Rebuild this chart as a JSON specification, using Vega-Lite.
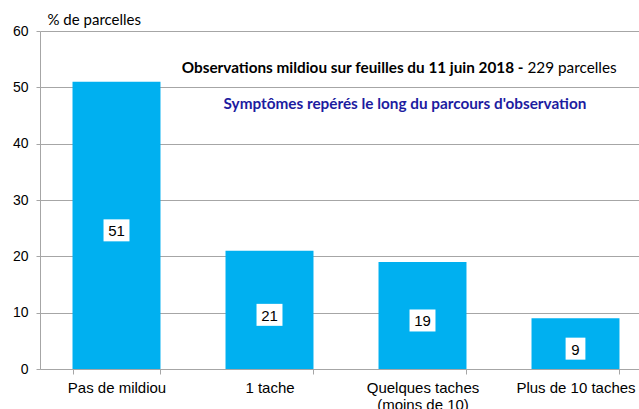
{
  "$schema": "https://vega.github.io/schema/vega-lite/v6.json",
  "width": 612,
  "height": 338,
  "autosize": {"type": "none"},
  "padding": {"left": 40, "top": 31, "right": 0, "bottom": 40},
  "background": "white",
  "config": {"view": {"stroke": null}, "font": "Liberation Sans"},
  "data": {"values": [
    {"categorie": "Pas de mildiou", "pct": 51},
    {"categorie": "1 tache", "pct": 21},
    {"categorie": "Quelques taches (moins de 10)", "pct": 19},
    {"categorie": "Plus de 10 taches", "pct": 9}
  ]},
  "encoding": {
    "x": {
      "field": "categorie", "type": "nominal", "sort": null,
      "scale": {"paddingInner": 0.425, "paddingOuter": 0.2125},
      "axis": {
        "title": null, "labelAngle": 0, "tickBand": "extent",
        "domainColor": "#a6a6a6", "tickColor": "#a6a6a6", "tickSize": 5,
        "labelFont": "Liberation Sans", "labelFontSize": 15, "labelColor": "#000000",
        "labelPadding": 6, "labelLineHeight": 17,
        "labelExpr": "datum.label == 'Quelques taches (moins de 10)' ? ['Quelques taches', '(moins de 10)'] : datum.label"
      }
    }
  },
  "layer": [
    {
      "mark": {"type": "bar", "color": "#00b0f0"},
      "encoding": {
        "y": {
          "field": "pct", "type": "quantitative",
          "scale": {"domain": [0, 60], "nice": false},
          "axis": {
            "values": [0, 10, 20, 30, 40, 50, 60],
            "title": "% de parcelles", "titleAngle": 0, "titleAlign": "left",
            "titleBaseline": "middle", "titleX": 7, "titleY": -12,
            "titleFont": "Lato", "titleFontSize": 15, "titleFontWeight": "normal", "titleColor": "#000000",
            "labelFont": "Liberation Sans", "labelFontSize": 14, "labelColor": "#000000", "labelPadding": 8,
            "domainColor": "#a6a6a6", "tickColor": "#a6a6a6", "tickSize": 4,
            "grid": true, "gridColor": "#a6a6a6", "gridWidth": 1
          }
        }
      }
    },
    {
      "transform": [{"filter": "datum.pct >= 10"}, {"calculate": "datum.pct / 2", "as": "milieu"}],
      "mark": {"type": "point", "shape": "M-1.18,-1H1.18V1H-1.18Z", "filled": true, "color": "white", "opacity": 1, "size": 484, "yOffset": 5},
      "encoding": {"y": {"field": "milieu", "type": "quantitative"}}
    },
    {
      "transform": [{"filter": "datum.pct < 10"}, {"calculate": "datum.pct / 2", "as": "milieu"}],
      "mark": {"type": "point", "shape": "M-0.9,-1H0.9V1H-0.9Z", "filled": true, "color": "white", "opacity": 1, "size": 484, "yOffset": 5},
      "encoding": {"y": {"field": "milieu", "type": "quantitative"}}
    },
    {
      "transform": [{"calculate": "datum.pct / 2", "as": "milieu"}],
      "mark": {"type": "text", "font": "Liberation Sans", "fontSize": 15, "color": "#000000", "baseline": "middle", "dy": 6},
      "encoding": {"y": {"field": "milieu", "type": "quantitative"}, "text": {"field": "pct", "type": "quantitative"}}
    },
    {
      "data": {"values": [{"t": "Observations mildiou sur feuilles du 11 juin 2018 -"}]},
      "mark": {"type": "text", "font": "Lato", "fontWeight": "bold", "fontSize": 15.3, "color": "#000000", "align": "right", "baseline": "middle", "dx": 101},
      "encoding": {"x": {"datum": "Quelques taches (moins de 10)"}, "y": {"datum": 53.4}, "text": {"field": "t"}}
    },
    {
      "data": {"values": [{"t": "229 parcelles"}]},
      "mark": {"type": "text", "font": "Lato", "fontWeight": "normal", "fontSize": 15.3, "color": "#000000", "align": "left", "baseline": "middle", "dx": 105},
      "encoding": {"x": {"datum": "Quelques taches (moins de 10)"}, "y": {"datum": 53.4}, "text": {"field": "t"}}
    },
    {
      "data": {"values": [{"t": "Symptômes repérés le long du parcours d'observation"}]},
      "mark": {"type": "text", "font": "Lato", "fontWeight": "bold", "fontSize": 15.3, "color": "#1c1ca0", "align": "center", "baseline": "middle", "dx": -17.5},
      "encoding": {"x": {"datum": "Quelques taches (moins de 10)"}, "y": {"datum": 47.0}, "text": {"field": "t"}}
    }
  ]
}
